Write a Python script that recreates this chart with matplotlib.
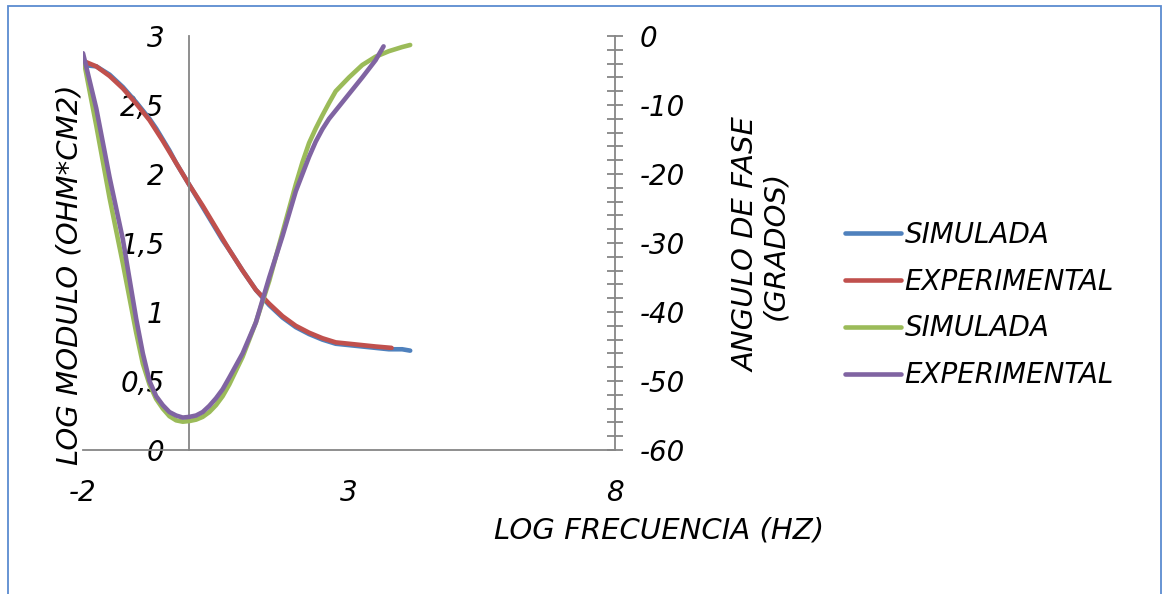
#!/usr/bin/env python3
"""
Bode plot: log modulus and phase angle vs log frequency (simulated vs experimental).
"""

import matplotlib
matplotlib.use("Agg")
import matplotlib.pyplot as plt
from matplotlib.patches import Rectangle

# ---- data ----
x_sim = [-2.0, -1.875, -1.75, -1.5, -1.25, -1.0, -0.875, -0.75, -0.625, -0.5,
         -0.375, -0.25, -0.125, 0.0, 0.125, 0.25, 0.375, 0.5, 0.625, 0.75,
         1.0, 1.25, 1.5, 1.75, 2.0, 2.125, 2.25, 2.375, 2.5, 2.625, 2.75,
         3.0, 3.25, 3.5, 3.75, 4.0, 4.15]
mod_sim = [2.79, 2.785, 2.78, 2.72, 2.63, 2.52, 2.46, 2.40, 2.33, 2.25,
           2.17, 2.08, 2.00, 1.92, 1.84, 1.76, 1.68, 1.60, 1.52, 1.45,
           1.30, 1.16, 1.05, 0.96, 0.89, 0.865, 0.84, 0.82, 0.80, 0.785, 0.77,
           0.76, 0.75, 0.74, 0.73, 0.73, 0.72]
phase_sim = [-3.0, -8.0, -13.0, -23.5, -33.0, -43.0, -47.5, -50.5, -52.6, -54.0,
             -55.1, -55.7, -55.9, -55.8, -55.6, -55.2, -54.5, -53.5, -52.2, -50.5,
             -46.5, -41.5, -35.5, -28.5, -21.5, -18.3, -15.5, -13.4, -11.5, -9.7, -8.0,
             -6.0, -4.2, -3.0, -2.2, -1.6, -1.3]

x_exp_mod = [-2.0, -1.875, -1.75, -1.5, -1.25, -1.0, -0.75, -0.5, -0.25, 0.0,
             0.25, 0.5, 0.75, 1.0, 1.25, 1.5, 1.75, 2.0, 2.25, 2.5, 2.75, 3.0,
             3.25, 3.5, 3.8]
mod_exp = [2.82, 2.80, 2.78, 2.71, 2.62, 2.51, 2.39, 2.24, 2.08, 1.92,
           1.77, 1.61, 1.45, 1.30, 1.16, 1.06, 0.97, 0.90, 0.85, 0.81, 0.78, 0.77,
           0.76, 0.75, 0.74]

x_exp_phase = [-2.0, -1.75, -1.5, -1.25, -1.0, -0.875, -0.75, -0.625, -0.5,
               -0.375, -0.25, -0.125, 0.0, 0.125, 0.25, 0.375, 0.5, 0.625, 0.75,
               1.0, 1.25, 1.5, 1.75, 2.0, 2.125, 2.25, 2.375, 2.5, 2.625, 2.75,
               3.0, 3.25, 3.5, 3.65]
phase_exp = [-2.5, -10.5, -20.5, -29.5, -41.0, -46.0, -50.0, -52.2, -53.5,
             -54.5, -55.0, -55.3, -55.2, -55.0, -54.5, -53.6, -52.5, -51.2, -49.5,
             -46.0, -41.5, -35.0, -29.0, -22.5, -20.0, -17.5, -15.3, -13.5, -12.0, -10.8,
             -8.4, -6.0, -3.5, -1.5]

x_ticks = [-2, 3, 8]
mod_ticks = [0, 0.5, 1, 1.5, 2, 2.5, 3]
mod_tick_labels = ["0", "0,5", "1", "1,5", "2", "2,5", "3"]
phase_ticks = [-60, -50, -40, -30, -20, -10, 0]
phase_tick_labels = ["-60", "-50", "-40", "-30", "-20", "-10", "0"]
series_labels = ["SIMULADA", "EXPERIMENTAL", "SIMULADA", "EXPERIMENTAL"]

# ---- style ----
BLUE, RED, GREEN, PURPLE = "#4F81BD", "#C0504D", "#9BBB59", "#8064A2"
GRAY = "#868686"
tick_font = dict(family="DejaVu Sans", style="italic", size=20)
title_font = dict(family="DejaVu Sans", style="italic", size=21)

fig = plt.figure(figsize=(11.62, 5.94), dpi=100)
ax = fig.add_axes([83 / 1162, 1 - 450 / 594, (615 - 83) / 1162, (450 - 36) / 594])
ax2 = ax.twinx()

lw = 3.3
l1, = ax.plot(x_sim, mod_sim, color=BLUE, lw=lw, solid_capstyle="round")
l2, = ax.plot(x_exp_mod, mod_exp, color=RED, lw=lw, solid_capstyle="round")
l3, = ax2.plot(x_sim, phase_sim, color=GREEN, lw=lw, solid_capstyle="round")
l4, = ax2.plot(x_exp_phase, phase_exp, color=PURPLE, lw=lw, solid_capstyle="round")

# primary axis (move the left spine first: it resets the ticks)
ax.spines["left"].set_position(("data", 0))
ax.set_xlim(-2, 8)
ax.set_ylim(0, 3)
ax.set_xticks(x_ticks)
ax.set_xticklabels([str(t) for t in x_ticks], **tick_font)
ax.set_yticks(mod_ticks)
ax.set_yticklabels(mod_tick_labels, **tick_font)
ax.tick_params(axis="x", length=0, pad=21)
ax.tick_params(axis="y", length=0, pad=18)
for s in ["top", "right"]:
    ax.spines[s].set_visible(False)
for s in ["left", "bottom"]:
    ax.spines[s].set_color(GRAY)
    ax.spines[s].set_linewidth(1.3)

# secondary axis
ax2.set_ylim(-60, 0)
ax2.set_yticks(phase_ticks)
ax2.set_yticklabels(phase_tick_labels, **tick_font)
ax2.set_yticks(range(-60, 1, 2), minor=True)
ax2.tick_params(axis="y", which="both", direction="inout", length=11,
                width=1.3, color=GRAY, pad=12)
for s in ["top", "left", "bottom"]:
    ax2.spines[s].set_visible(False)
ax2.spines["right"].set_color(GRAY)
ax2.spines["right"].set_linewidth(1.3)

# axis titles
fig.text(70 / 1162, 1 - 275 / 594, "LOG MODULO (OHM*CM2)", rotation=90,
         ha="center", va="center", **title_font)
fig.text(761 / 1162, 1 - 245 / 594, "ANGULO DE FASE\n(GRADOS)", rotation=90,
         ha="center", va="center", multialignment="center", linespacing=1.0,
         **title_font)
fig.text(659 / 1162, 1 - 530 / 594, "LOG FRECUENCIA (HZ)", ha="center",
         va="center", **title_font)

# legend
fig.legend([l1, l2, l3, l4], series_labels, loc="center left",
           bbox_to_anchor=(845 / 1162, 1 - 305 / 594), frameon=False,
           borderpad=0, borderaxespad=0, handlelength=2.0, handletextpad=0.15,
           labelspacing=0.68, prop=tick_font)

# chart border
fig.patches.append(Rectangle((8 / 1162, -0.01), (1161 - 8) / 1162, 1 - 6 / 594 + 0.01,
                             transform=fig.transFigure, fill=False,
                             edgecolor="#5B8BD0", linewidth=1.3))

fig.savefig("out.png", dpi=100)
plt.close(fig)
